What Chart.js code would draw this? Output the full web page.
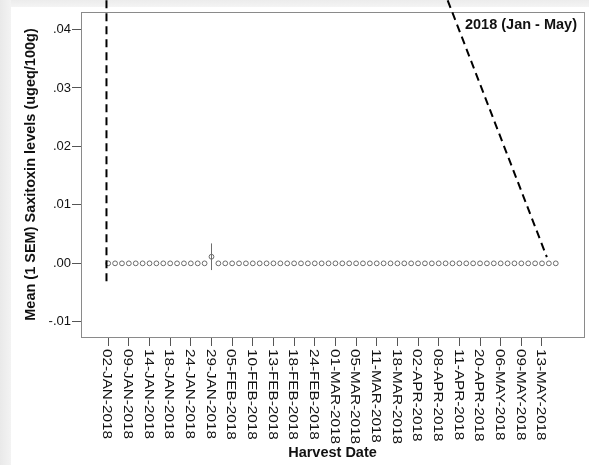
<!DOCTYPE html>
<html>
<head>
<meta charset="utf-8">
<script src="https://cdn.jsdelivr.net/npm/chart.js"></script>
<style>
    html, body { margin: 0; padding: 0; }
    body {
        width: 589px; height: 465px; overflow: hidden;
        background:
            linear-gradient(to right, #e9e9e9 0px, #f3f3f3 11px, rgba(255,255,255,0) 11px),
            linear-gradient(to bottom, #ececec 0px, #f4f4f4 7px, #ffffff 7px);
    }
    canvas { display: block; }
</style>
</head>
<body>
<canvas id="chart" width="589" height="465"></canvas>
<script>
// mean saxitoxin per harvest (one entry per harvest date, in order)
const meanValues = [
    0, 0, 0, 0, 0, 0, 0, 0, 0, 0, 0, 0, 0, 0, 0, 0.00113, 0, 0, 0, 0, 0, 0,
    0, 0, 0, 0, 0, 0, 0, 0, 0, 0, 0, 0, 0, 0, 0, 0, 0, 0, 0, 0, 0, 0,
    0, 0, 0, 0, 0, 0, 0, 0, 0, 0, 0, 0, 0, 0, 0, 0, 0, 0, 0, 0, 0, 0
];
// 1 SEM per harvest
const semValues = [
    0, 0, 0, 0, 0, 0, 0, 0, 0, 0, 0, 0, 0, 0, 0, 0.00228, 0, 0, 0, 0, 0, 0,
    0, 0, 0, 0, 0, 0, 0, 0, 0, 0, 0, 0, 0, 0, 0, 0, 0, 0, 0, 0, 0, 0,
    0, 0, 0, 0, 0, 0, 0, 0, 0, 0, 0, 0, 0, 0, 0, 0, 0, 0, 0, 0, 0, 0
];
// labelled harvests (index into the series) and their labels
const tickIndex = [0, 3, 6, 9, 12, 15, 18, 21, 24, 27, 30, 33, 36, 39, 42, 45, 48, 51, 54, 57, 60, 63];
const tickLabels = [
    "02-JAN-2018", "09-JAN-2018", "14-JAN-2018", "18-JAN-2018", "24-JAN-2018", "29-JAN-2018",
    "05-FEB-2018", "10-FEB-2018", "13-FEB-2018", "18-FEB-2018", "24-FEB-2018", "01-MAR-2018",
    "05-MAR-2018", "11-MAR-2018", "18-MAR-2018", "02-APR-2018", "08-APR-2018", "11-APR-2018",
    "20-APR-2018", "06-MAY-2018", "09-MAY-2018", "13-MAY-2018"
];
const yTicks = [-0.01, 0, 0.01, 0.02, 0.03, 0.04];

// dashed marker lines drawn over the chart
const markerVertX = [-0.25, -0.25];
const markerVertY = [0.045, -0.0037];
const markerDiagX = [49.3, 63.7];
const markerDiagY = [0.045, 0.00108];

const FONT = "'Liberation Sans', Arial, sans-serif";

const frameAndLabels = {
    id: "frameAndLabels",
    beforeDatasetsDraw(chart) {
        const {ctx, chartArea: a, scales: {x, y}} = chart;
        ctx.save();
        ctx.strokeStyle = "#8a8a8a";
        ctx.lineWidth = 1;
        ctx.strokeRect(Math.round(a.left) + 0.5, Math.round(a.top) + 0.5,
            Math.round(a.right - a.left), Math.round(a.bottom - a.top));

        // error bars (mean +/- 1 SEM)
        ctx.strokeStyle = "#6e6e6e";
        meanValues.forEach((m, i) => {
            if (!semValues[i]) return;
            const px = Math.round(x.getPixelForValue(i)) + 0.5;
            ctx.beginPath();
            ctx.moveTo(px, y.getPixelForValue(m + semValues[i]));
            ctx.lineTo(px, y.getPixelForValue(m - semValues[i]));
            ctx.stroke();
        });
        ctx.restore();
    },
    afterDraw(chart) {
        const {ctx, chartArea: a, scales: {x}} = chart;
        ctx.save();
        // x tick labels, reading top to bottom (slightly stretched like the SPSS output)
        ctx.fillStyle = "#111";
        ctx.font = "13.5px " + FONT;
        ctx.textAlign = "left";
        ctx.textBaseline = "middle";
        x.ticks.forEach((t, k) => {
            const px = x.getPixelForValue(t.value) - 1;
            ctx.save();
            ctx.translate(px, a.bottom + 12);
            ctx.rotate(Math.PI / 2);
            ctx.scale(1.13, 1);
            ctx.fillText(tickLabels[k], 0, 0);
            ctx.restore();
        });
        // period label
        ctx.font = "bold 14.5px " + FONT;
        ctx.textAlign = "right";
        ctx.fillText("2018 (Jan - May)", a.right - 7, a.top + 13);
        ctx.restore();
    }
};

new Chart(document.getElementById("chart"), {
    type: "line",
    data: {
        datasets: [
            {
                data: meanValues.map((v, i) => ({x: i, y: v})),
                showLine: false,
                pointStyle: "circle",
                pointRadius: 2.4,
                pointBorderWidth: 1,
                pointBorderColor: "#6a6a6a",
                pointBackgroundColor: "rgba(255,255,255,0)",
                order: 1
            },
            {
                data: markerVertX.map((v, i) => ({x: v, y: markerVertY[i]})),
                borderColor: "#000",
                borderWidth: 2,
                borderDash: [8, 5],
                pointRadius: 0,
                clip: false,
                order: 0
            },
            {
                data: markerDiagX.map((v, i) => ({x: v, y: markerDiagY[i]})),
                borderColor: "#000",
                borderWidth: 2,
                borderDash: [8, 5],
                pointRadius: 0,
                clip: false,
                order: 0
            }
        ]
    },
    options: {
        responsive: false,
        animation: false,
        layout: { padding: { top: 12, right: 4, left: 0, bottom: 0 } },
        plugins: { legend: { display: false }, tooltip: { enabled: false } },
        scales: {
            x: {
                type: "linear",
                min: -3.95,
                max: 69.1,
                afterBuildTicks: (s) => { s.ticks = tickIndex.map(v => ({value: v})); },
                afterFit: (s) => { s.height = 128; },
                border: { display: false },
                grid: { drawOnChartArea: false, tickLength: 9, tickColor: "#555", lineWidth: 1 },
                ticks: { display: false, autoSkip: false },
                title: {
                    display: true,
                    text: "Harvest Date",
                    color: "#111",
                    font: { family: FONT, size: 14.5, weight: "bold" },
                    padding: { top: 0, bottom: 3 }
                }
            },
            y: {
                min: -0.0126,
                max: 0.0430,
                afterBuildTicks: (s) => { s.ticks = yTicks.map(v => ({value: v})); },
                afterFit: (s) => { s.width = 81; },
                border: { display: false },
                grid: { drawOnChartArea: false, tickLength: 9, tickColor: "#555", lineWidth: 1 },
                ticks: {
                    color: "#111",
                    padding: 1,
                    font: { family: FONT, size: 13 },
                    callback: (v) => v.toFixed(2).replace("0.", ".")
                },
                title: {
                    display: true,
                    text: "Mean (1 SEM) Saxitoxin levels (ugeq/100g)",
                    color: "#111",
                    font: { family: FONT, size: 14.5, weight: "bold" },
                    padding: { top: 22, bottom: 0 }
                }
            }
        }
    },
    plugins: [frameAndLabels]
});
</script>
</body>
</html>
